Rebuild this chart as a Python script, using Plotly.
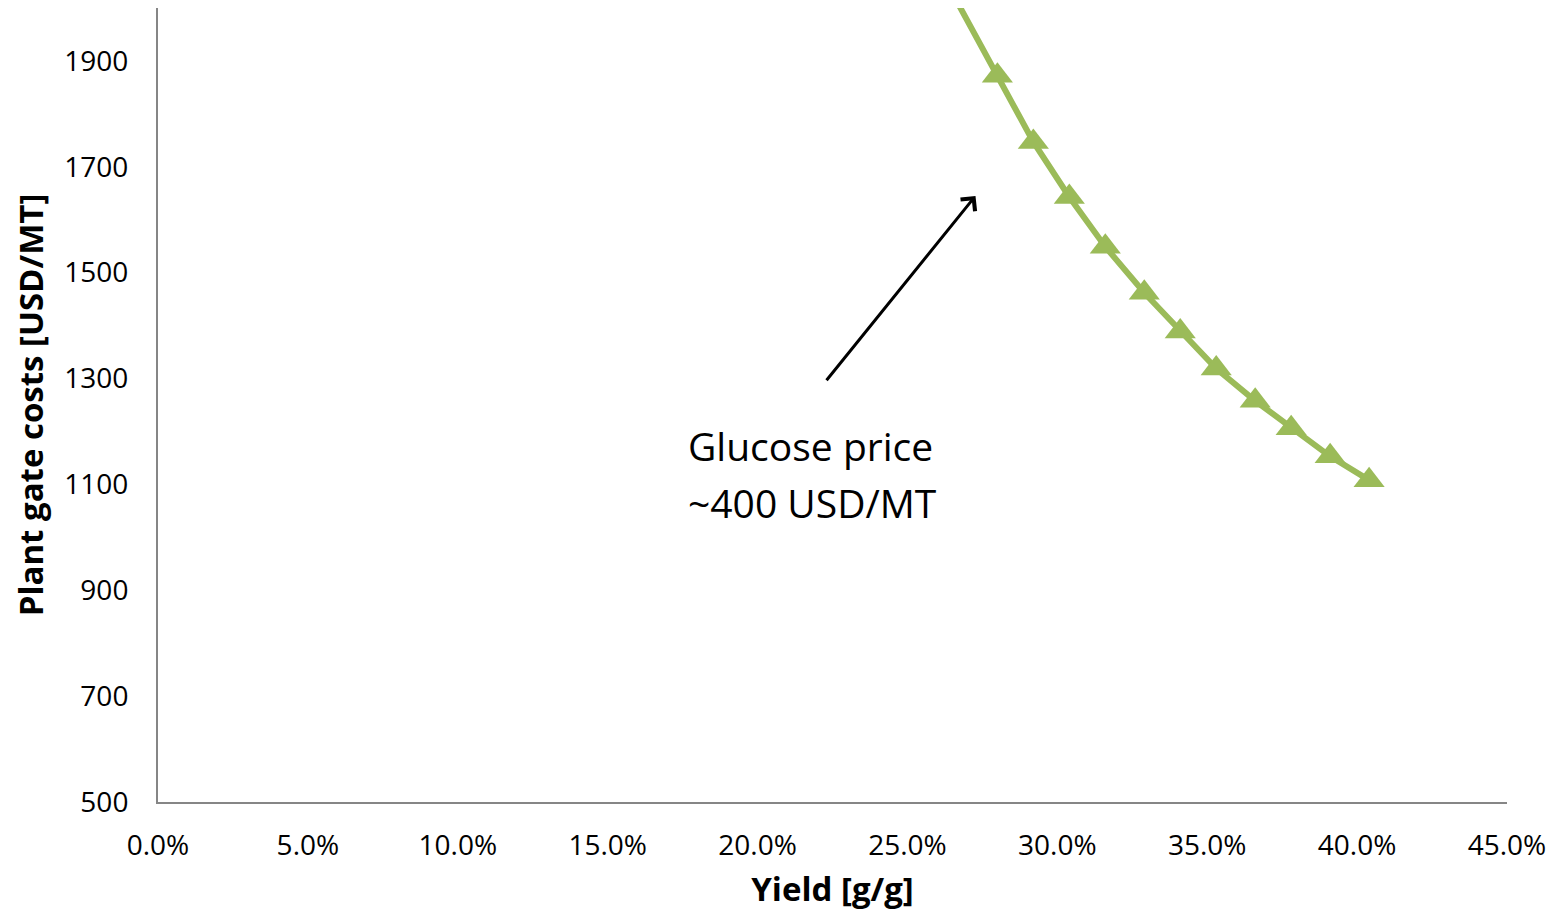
import plotly.graph_objects as go

# Data
yield_frac = [0.260, 0.280, 0.292, 0.304, 0.316, 0.329, 0.341, 0.353, 0.366, 0.378, 0.391, 0.404]
plant_gate_cost = [2080, 1872, 1747, 1643, 1549, 1462, 1389, 1319, 1258, 1206, 1153, 1108]

y_ticks = [500, 700, 900, 1100, 1300, 1500, 1700, 1900]
annot_lines = ["Glucose price", "~400 USD/MT"]

GREEN = "#9BBB59"
AXIS = "#868686"
FONT = "Open Sans"

fig = go.Figure()
fig.add_trace(go.Scatter(
    x=yield_frac, y=plant_gate_cost, mode="lines+markers",
    line=dict(color=GREEN, width=6),
    marker=dict(symbol="triangle-up", size=27, color=GREEN),
    cliponaxis=True, showlegend=False,
))

# Arrow
fig.add_annotation(
    x=0.2727, y=1645, ax=0.2226, ay=1294, xref="x", yref="y", axref="x", ayref="y",
    text="", showarrow=True, arrowhead=4, arrowsize=1.2, arrowwidth=3, arrowcolor="black",
)
# Text lines
fig.add_annotation(x=0.1762, y=1174, xref="x", yref="y", text=annot_lines[0], showarrow=False,
                   xanchor="left", yanchor="middle", font=dict(family=FONT, size=39, color="black"))
fig.add_annotation(x=0.1762, y=1066, xref="x", yref="y", text=annot_lines[1], showarrow=False,
                   xanchor="left", yanchor="middle", font=dict(family=FONT, size=39, color="black"))

fig.update_layout(
    width=1558, height=907,
    margin=dict(l=150, r=59, t=0, b=113),
    paper_bgcolor="white", plot_bgcolor="white",
    font=dict(family=FONT, size=28, color="black"),
    xaxis=dict(
        range=[0, 0.45], dtick=0.05, tick0=0, tickformat=".1%",
        showgrid=False, zeroline=False, showline=True, linecolor=AXIS, linewidth=2,
        ticks="", ticklabelstandoff=17,
        title=dict(text="<b>Yield [g/g]</b>", font=dict(size=33), standoff=16),
    ),
    yaxis=dict(
        range=[500, 2000], tickvals=y_ticks,
        showgrid=False, zeroline=False, showline=True, linecolor=AXIS, linewidth=2,
        ticks="", ticklabelstandoff=22,
        title=dict(text="<b>Plant gate costs [USD/MT]</b>", font=dict(size=33), standoff=12),
    ),
)

fig.write_html("out.html")
